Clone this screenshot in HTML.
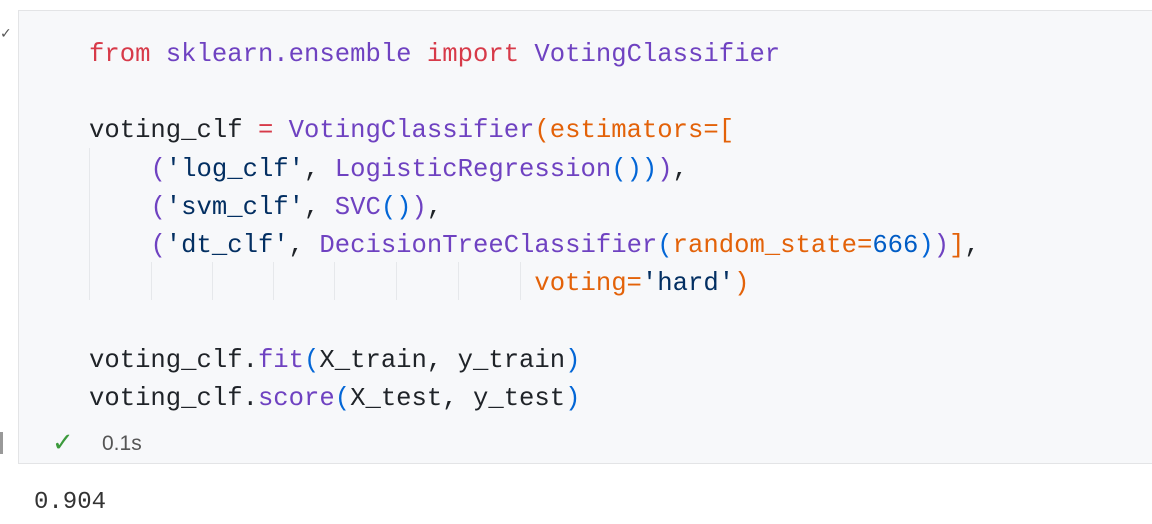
<!DOCTYPE html>
<html><head><meta charset="utf-8"><style>
body{margin:0;width:1152px;height:524px;background:#fff;position:relative;overflow:hidden;font-family:"Liberation Mono",monospace}
.cell{position:absolute;left:18px;top:10px;width:1140px;height:454px;background:#f7f8fa;border:1px solid #e3e4e6;box-sizing:border-box}
.code{position:absolute;left:89px;top:36px;font-size:25.6px;line-height:38.2px;white-space:pre;color:#1f2328}
.k{color:#d73a49}.p{color:#6f42c1}.o{color:#e36209}.s{color:#032f62}.n{color:#005cc5}.b{color:#0366d6}
.g{position:absolute;top:262px;height:38px;width:1px;background:#e6e8eb}
</style></head><body>
<div style="position:absolute;left:0;top:26px;font-size:14px;color:#555;font-family:'DejaVu Sans',sans-serif">✓</div>
<div class="cell"></div>
<div class="g" style="left:89px"></div><div class="g" style="left:151px"></div><div class="g" style="left:212px"></div><div class="g" style="left:273px"></div><div class="g" style="left:334px"></div><div class="g" style="left:396px"></div><div class="g" style="left:458px"></div><div class="g" style="left:520px"></div>
<div class="g" style="left:89px;top:148px;height:114px"></div>
<div class="code"><span class="k">from</span> <span class="p">sklearn.ensemble</span> <span class="k">import</span> <span class="p">VotingClassifier</span>

voting_clf <span class="k">=</span> <span class="p">VotingClassifier</span><span class="o">(estimators=[</span>
    <span class="p">(</span><span class="s">'log_clf'</span>, <span class="p">LogisticRegression</span><span class="b">())</span><span class="p">)</span>,
    <span class="p">(</span><span class="s">'svm_clf'</span>, <span class="p">SVC</span><span class="b">()</span><span class="p">)</span>,
    <span class="p">(</span><span class="s">'dt_clf'</span>, <span class="p">DecisionTreeClassifier</span><span class="b">(</span><span class="o">random_state=</span><span class="n">666</span><span class="b">)</span><span class="p">)</span><span class="o">]</span>,
                             <span class="o">voting=</span><span class="s">'hard'</span><span class="o">)</span>

voting_clf.<span class="p">fit</span><span class="b">(</span>X_train, y_train<span class="b">)</span>
voting_clf.<span class="p">score</span><span class="b">(</span>X_test, y_test<span class="b">)</span></div>
<div style="position:absolute;left:0;top:432px;width:3px;height:22px;background:#999"></div>
<div style="position:absolute;left:52px;top:428px;font-size:26px;color:#3c9a3c;font-family:'DejaVu Sans',sans-serif;font-weight:300">✓</div>
<div style="position:absolute;left:102px;top:432px;font-size:21px;color:#555;font-family:'Liberation Sans',sans-serif">0.1s</div>
<div style="position:absolute;left:34px;top:489px;font-size:24px;color:#333">0.904</div>
</body></html>
